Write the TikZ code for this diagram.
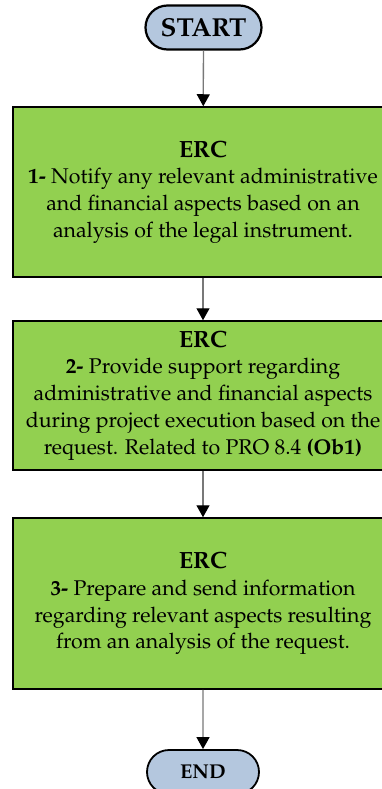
\documentclass[tikz,border=0pt]{standalone}
\usepackage[T1]{fontenc}
\usepackage{mathpazo}
\usetikzlibrary{arrows.meta,shapes.misc}
\definecolor{stepgreen}{RGB}{146,208,80}
\definecolor{termblue}{RGB}{180,199,222}
\definecolor{linegray}{RGB}{120,120,120}
\newcommand{\steptitle}{{\fontsize{23.5}{26.8}\selectfont\bfseries ERC}}
\tikzset{
  terminal/.style={rounded rectangle, draw=black, line width=1.8pt, fill=termblue,
    minimum height=44pt, inner sep=0pt, font=\bfseries},
  stepbox/.style={rectangle, draw=black, line width=1.5pt, fill=stepgreen,
    minimum width=380pt, inner sep=0pt, align=center, font=\fontsize{21.3}{26.8}\selectfont},
  conn/.style={draw=linegray, line width=1.3pt, -{Triangle[color=black,fill=black,length=12pt,width=13pt]}}
}
\begin{document}
\begin{tikzpicture}[x=1pt,y=-1pt]
\useasboundingbox (0,0) rectangle (381,789);
\node[terminal, minimum width=116pt, line width=2.2pt, font=\fontsize{26}{30}\selectfont\bfseries] (start) at (203.5,27.5) {START};
\node[stepbox, minimum height=170pt] (s1) at (203,192)
  {\steptitle\\\textbf{1-} Notify any relevant administrative\\and financial aspects based on an\\analysis of the legal instrument.};
\node[stepbox, minimum height=149pt] (s2) at (203,395.5)
  {\steptitle\\\textbf{2-} Provide support regarding\\administrative and financial aspects\\during project execution based on the\\request. Related to PRO 8.4 \textbf{(Ob1)}};
\node[stepbox, minimum height=171pt] (s3) at (203,603.5)
  {\steptitle\\\textbf{3-} Prepare and send information\\regarding relevant aspects resulting\\from an analysis of the request.};
\node[terminal, minimum width=112pt, font=\fontsize{20}{24}\selectfont\bfseries] (end) at (203,772) {END};
\draw[conn] (start) -- (s1);
\draw[conn] (s1) -- (s2);
\draw[conn] (s2) -- (s3);
\draw[conn] (s3) -- (end);
\end{tikzpicture}
\end{document}
